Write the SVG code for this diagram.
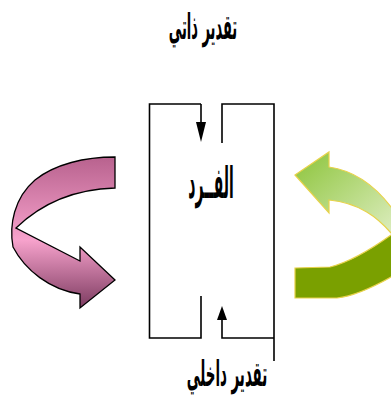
<svg xmlns="http://www.w3.org/2000/svg" width="391" height="401" viewBox="0 0 391 401">
<defs>
<style>
.ln{fill:none;stroke:#000;stroke-width:1.6}
.ah{fill:#000;stroke:none}
.t{font-family:"DejaVu Sans",sans-serif;font-weight:bold;fill:#000;text-anchor:middle}
</style>
<linearGradient id="pink" x1="0" y1="0" x2="0" y2="1">
<stop offset="0" stop-color="#b8628e"/>
<stop offset="0.55" stop-color="#f7a2cc"/>
<stop offset="1" stop-color="#7c3b60"/>
</linearGradient>
<linearGradient id="greenTop" x1="0" y1="0" x2="1" y2="1">
<stop offset="0" stop-color="#8cc43a"/>
<stop offset="1" stop-color="#e2f0c8"/>
</linearGradient>
</defs>
<rect width="391" height="401" fill="#fff"/>
<g id="arrow-left">
<path d="M115,157 L115,188 C80,189 45,200 16,228 L80,261 L80,247 L115,280 L80,308 L80,294 C50,290 25,270 13,247 C9,225 14,198 35,180 C55,164 85,157 115,157 Z" fill="url(#pink)" stroke="#000" stroke-width="1.3"/>
</g>
<g id="arrow-right">
<path d="M295,268 L330,267 C350,262 370,250 391,235 L400,228 L400,272 L391,277 C375,286 355,296 337,298 L295,298 Z" fill="#7aa000" stroke="#e8d24a" stroke-width="1.2"/>
<path d="M295,175 L329,152 L329,167 C350,170 372,182 391,207 L400,220 L400,240 L391,233 C378,218 360,203 329,200 L329,213 Z" fill="url(#greenTop)" stroke="#e8d24a" stroke-width="1.2"/>
</g>
<g id="box">
<path class="ln" d="M201,104 L149.5,104 L149.5,338 L201,338 L201,296"/>
<path class="ln" d="M222,143 L222,104 L274,104 L274,361"/>
<path class="ln" d="M274,338 L222,338 L222,318"/>
</g>
<g id="connectors">
<path class="ln" d="M201,104 L201,124"/>
<polygon class="ah" points="196,122 206,122 201,142"/>
<polygon class="ah" points="217,320 227,320 222,306"/>
</g>
<g id="label-top"><text class="t" transform="translate(203,39) scale(0.65,1.75)" font-size="20">تقدير ذاتي</text></g>
<g id="label-center"><text class="t" transform="translate(211,198) scale(0.58,1.8)" font-size="24">الفــرد</text></g>
<g id="label-bottom"><text class="t" transform="translate(227,386) scale(0.67,1.75)" font-size="20">تقدير داخلي</text></g>
</svg>
